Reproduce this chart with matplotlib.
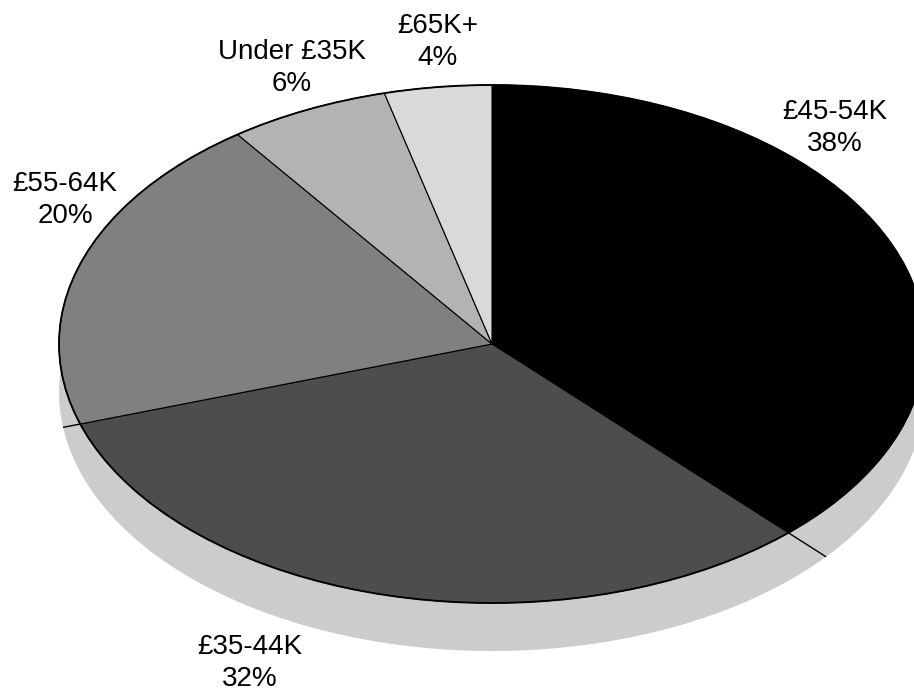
import numpy as np
import matplotlib
matplotlib.use("Agg")
import matplotlib.pyplot as plt
from matplotlib.patches import Ellipse

# Salary bands and their shares (percent)
bands = ["£45-54K", "£35-44K", "£55-64K", "Under £35K", "£65K+"]
shares = [38, 32, 20, 6, 4]
slice_colors = ["#000000", "#4d4d4d", "#808080", "#b3b3b3", "#d9d9d9"]

# Label anchor positions in pie units (x, y)
label_pos = [(0.792, 0.834), (-0.559, -1.232), (-0.986, 0.556),
             (-0.462, 1.066), (-0.125, 1.166)]

W, H = 914, 693
RX, RY = 433.0, 259.0          # pixel radii of the tilted disc
CX, CY = 492.0, 344.0          # pixel centre of the disc
DEPTH = 48.0 / RY              # thickness of the disc, in pie units

plt.rcParams["font.family"] = ["Liberation Sans", "DejaVu Sans"]

fig = plt.figure(figsize=(W / 100, H / 100), dpi=100)
ax = fig.add_axes([0, 0, 1, 1])

# Side of the disc
ax.add_patch(Ellipse((0, -DEPTH), 2, 2, facecolor="#cccccc",
                     edgecolor="none", zorder=1))

# Slice boundaries continued down to the rim of the side
bounds = np.cumsum([0] + shares[:-1]) / 100.0
for b in bounds:
    th = 2 * np.pi * b
    dx, dy = np.sin(th), np.cos(th)
    s = DEPTH
    t = -dy * s + np.sqrt(dy * dy * s * s - s * s + 1)
    ax.plot([0, t * dx], [0, t * dy], color="black", lw=1.0, zorder=2,
            solid_capstyle="butt")

wedges, _ = ax.pie(shares, colors=slice_colors, startangle=90,
                   counterclock=False, radius=1, center=(0, 0),
                   wedgeprops=dict(edgecolor="black", linewidth=0.8,
                                   zorder=3))
for w in wedges:
    w.set_zorder(3)

# Top rim outline
ax.add_patch(Ellipse((0, 0), 2, 2, facecolor="none", edgecolor="black",
                     linewidth=1.3, zorder=4))

for name, pct, (lx, ly) in zip(bands, shares, label_pos):
    ax.text(lx, ly, f"{name}\n{pct}%", ha="center", va="center",
            fontsize=20, linespacing=1.32, zorder=5)

ax.set_aspect("auto")
ax.set_xlim(-CX / RX, (W - CX) / RX)
ax.set_ylim(-(H - CY) / RY, CY / RY)
ax.axis("off")

fig.savefig("out.png", dpi=100)
